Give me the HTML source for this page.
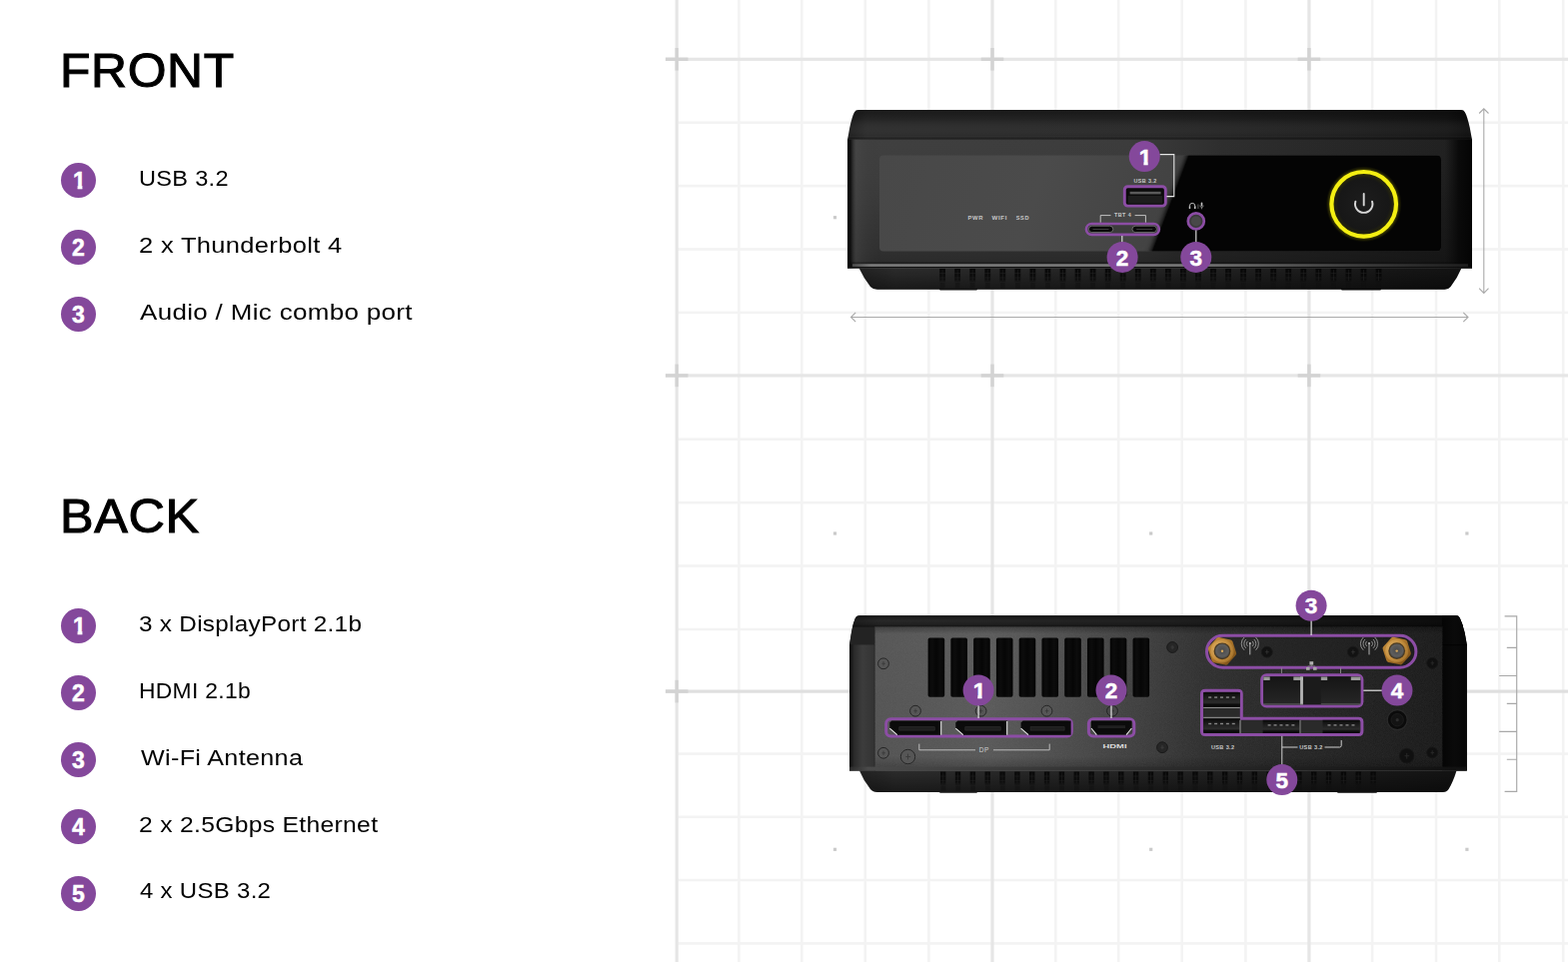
<!DOCTYPE html>
<html lang="en">
<head>
<meta charset="utf-8">
<title>Front / Back I/O</title>
<style>
html,body{margin:0;padding:0;background:#fff;}
body{width:1569px;height:963px;position:relative;overflow:hidden;font-family:"Liberation Sans",sans-serif;color:#000;}
#art{position:absolute;left:0;top:0;width:1569px;height:963px;display:block;}
#art text{font-family:"Liberation Sans",sans-serif;}
.hd{position:absolute;margin:0;font-size:47.4px;line-height:56px;font-weight:400;letter-spacing:.6px;white-space:nowrap;-webkit-text-stroke:1.05px #000;transform-origin:0 50%;}
.num{position:absolute;left:60.9px;width:35px;height:35px;border-radius:50%;background:#84489b;color:#fff;font-weight:700;font-size:23px;line-height:36px;text-align:center;-webkit-text-stroke:.5px #fff;}
.num.one span{display:block;position:relative;left:1px;clip-path:polygon(0 0,35px 0,35px 22.6px,20.5px 22.6px,20.5px 36px,15.7px 36px,15.7px 22.6px,0 22.6px);}
.lbl{position:absolute;font-size:22px;line-height:35px;height:35px;letter-spacing:.3px;white-space:nowrap;transform-origin:0 50%;}
</style>
</head>
<body>
<svg id="art" width="1569" height="963" viewBox="0 0 1569 963">
<defs>
<linearGradient id="fLid" x1="848" x2="1473" y1="0" y2="0" gradientUnits="userSpaceOnUse"><stop offset="0" stop-color="#1c1c1c"/><stop offset=".03" stop-color="#2a2a2a"/><stop offset=".5" stop-color="#262626"/><stop offset=".8" stop-color="#1c1c1c"/><stop offset=".96" stop-color="#151515"/><stop offset="1" stop-color="#0b0b0b"/></linearGradient>
<linearGradient id="fLidV" x1="0" x2="0" y1="110" y2="140" gradientUnits="userSpaceOnUse"><stop offset="0" stop-color="#000" stop-opacity=".4"/><stop offset=".3" stop-color="#000" stop-opacity=".14"/><stop offset=".85" stop-color="#fff" stop-opacity=".02"/><stop offset=".93" stop-color="#000" stop-opacity=".12"/><stop offset="1" stop-color="#000" stop-opacity=".3"/></linearGradient>
<linearGradient id="fBody" x1="848" x2="1473" y1="0" y2="0" gradientUnits="userSpaceOnUse"><stop offset="0" stop-color="#3c3c3c"/><stop offset=".45" stop-color="#383838"/><stop offset=".6" stop-color="#2a2a2a"/><stop offset="1" stop-color="#1b1b1b"/></linearGradient>
<linearGradient id="fBodyV" x1="0" x2="0" y1="140" y2="268" gradientUnits="userSpaceOnUse"><stop offset="0" stop-color="#fff" stop-opacity=".02"/><stop offset=".5" stop-color="#000" stop-opacity=".04"/><stop offset=".86" stop-color="#000" stop-opacity=".2"/><stop offset="1" stop-color="#000" stop-opacity=".3"/></linearGradient>
<linearGradient id="fEdgeL" x1="848" x2="882" y1="0" y2="0" gradientUnits="userSpaceOnUse"><stop offset="0" stop-color="#060606"/><stop offset=".09" stop-color="#0d0d0d" stop-opacity=".95"/><stop offset=".26" stop-color="#4c4c4c" stop-opacity=".4"/><stop offset=".5" stop-color="#444" stop-opacity=".25"/><stop offset=".75" stop-color="#3a3a3a" stop-opacity=".12"/><stop offset="1" stop-color="#333" stop-opacity="0"/></linearGradient>
<linearGradient id="fEdgeR" x1="1446" x2="1473" y1="0" y2="0" gradientUnits="userSpaceOnUse"><stop offset="0" stop-color="#0c0c0c" stop-opacity="0"/><stop offset=".5" stop-color="#080808" stop-opacity=".9"/><stop offset="1" stop-color="#040404"/></linearGradient>
<linearGradient id="fPanel" x1="880" x2="1190" y1="155" y2="252" gradientUnits="userSpaceOnUse"><stop offset="0" stop-color="#484848"/><stop offset=".5" stop-color="#4b4b4b"/><stop offset="1" stop-color="#404040"/></linearGradient>
<linearGradient id="gloss" x1="1161.2" y1="200.2" x2="1171.5" y2="204.1" gradientUnits="userSpaceOnUse"><stop offset="0" stop-color="#4a4a4a" stop-opacity="0"/><stop offset=".5" stop-color="#383838" stop-opacity=".55"/><stop offset=".85" stop-color="#1a1a1a" stop-opacity=".9"/><stop offset="1" stop-color="#040404"/></linearGradient>
<linearGradient id="fHi" x1="853" x2="1469" y1="0" y2="0" gradientUnits="userSpaceOnUse"><stop offset="0" stop-color="#4a4a4a"/><stop offset=".03" stop-color="#7a7a7a"/><stop offset=".55" stop-color="#767676"/><stop offset=".8" stop-color="#404040"/><stop offset="1" stop-color="#1e1e1e"/></linearGradient>
<linearGradient id="fBase" x1="860" x2="1462" y1="0" y2="0" gradientUnits="userSpaceOnUse"><stop offset="0" stop-color="#242424"/><stop offset=".06" stop-color="#2e2e2e"/><stop offset=".6" stop-color="#232323"/><stop offset="1" stop-color="#141414"/></linearGradient>
<linearGradient id="fBaseV" x1="0" x2="0" y1="0" y2="1"><stop offset="0" stop-color="#000" stop-opacity=".05"/><stop offset="1" stop-color="#000" stop-opacity=".45"/></linearGradient>
<linearGradient id="vent" x1="0" x2="0" y1="0" y2="1"><stop offset="0" stop-color="#050505" stop-opacity=".9"/><stop offset=".75" stop-color="#080808" stop-opacity=".8"/><stop offset="1" stop-color="#0c0c0c" stop-opacity=".3"/></linearGradient>
<radialGradient id="pwGlow" cx="1364.7" cy="204.3" r="38" gradientUnits="userSpaceOnUse"><stop offset=".8" stop-color="#7a7600" stop-opacity="0"/><stop offset=".9" stop-color="#7a7600" stop-opacity=".55"/><stop offset="1" stop-color="#3a3800" stop-opacity="0"/></radialGradient>
<radialGradient id="pwIn" cx="1364.7" cy="204.3" r="32" gradientUnits="userSpaceOnUse"><stop offset="0" stop-color="#1d1d1d"/><stop offset=".8" stop-color="#171717"/><stop offset="1" stop-color="#2e2d06"/></radialGradient>
<linearGradient id="bBody" x1="850" x2="1468" y1="0" y2="0" gradientUnits="userSpaceOnUse"><stop offset="0" stop-color="#1d1d1d"/><stop offset="1" stop-color="#0a0a0a"/></linearGradient>
<linearGradient id="bLid" x1="850" x2="1468" y1="0" y2="0" gradientUnits="userSpaceOnUse"><stop offset="0" stop-color="#1e1e1e"/><stop offset=".05" stop-color="#2a2a2a"/><stop offset=".5" stop-color="#222"/><stop offset="1" stop-color="#0c0c0c"/></linearGradient>
<linearGradient id="bLidV" x1="0" x2="0" y1="616" y2="628" gradientUnits="userSpaceOnUse"><stop offset="0" stop-color="#000" stop-opacity=".45"/><stop offset=".45" stop-color="#000" stop-opacity=".05"/><stop offset=".75" stop-color="#000" stop-opacity=".2"/><stop offset="1" stop-color="#000" stop-opacity=".6"/></linearGradient>
<linearGradient id="bSideL" x1="850" x2="876" y1="0" y2="0" gradientUnits="userSpaceOnUse"><stop offset="0" stop-color="#0a0a0a"/><stop offset=".18" stop-color="#2a2a2a"/><stop offset=".5" stop-color="#3c3c3c"/><stop offset=".92" stop-color="#343434"/><stop offset="1" stop-color="#222"/></linearGradient>
<linearGradient id="bSideR" x1="1443" x2="1468" y1="0" y2="0" gradientUnits="userSpaceOnUse"><stop offset="0" stop-color="#050505"/><stop offset=".5" stop-color="#0a0a0a"/><stop offset="1" stop-color="#060606"/></linearGradient>
<linearGradient id="bPanel" x1="875" x2="1443" y1="0" y2="0" gradientUnits="userSpaceOnUse"><stop offset="0" stop-color="#565656"/><stop offset=".2" stop-color="#5c5c5c"/><stop offset=".33" stop-color="#505050"/><stop offset=".48" stop-color="#3f3f3f"/><stop offset=".58" stop-color="#313131"/><stop offset=".75" stop-color="#272727"/><stop offset="1" stop-color="#1b1b1b"/></linearGradient>
<linearGradient id="bPanelV" x1="0" x2="0" y1="627.5" y2="771.6" gradientUnits="userSpaceOnUse"><stop offset="0" stop-color="#000" stop-opacity=".3"/><stop offset=".05" stop-color="#000" stop-opacity="0"/><stop offset=".9" stop-color="#000" stop-opacity=".04"/><stop offset="1" stop-color="#000" stop-opacity=".3"/></linearGradient>
<linearGradient id="bHi" x1="850" x2="1468" y1="0" y2="0" gradientUnits="userSpaceOnUse"><stop offset="0" stop-color="#2a2a2a"/><stop offset=".03" stop-color="#4a4a4a"/><stop offset=".5" stop-color="#2c2c2c"/><stop offset="1" stop-color="#101010"/></linearGradient>
<linearGradient id="slot" x1="0" x2="1" y1="0" y2="0"><stop offset="0" stop-color="#050505"/><stop offset=".25" stop-color="#0c0c0c"/><stop offset=".5" stop-color="#060606"/><stop offset=".75" stop-color="#0c0c0c"/><stop offset="1" stop-color="#030303"/></linearGradient>
<linearGradient id="gold" x1="0" x2="1" y1="0" y2="1"><stop offset="0" stop-color="#c08a3a"/><stop offset=".5" stop-color="#a87228"/><stop offset="1" stop-color="#7c5018"/></linearGradient>
<radialGradient id="gold2" cx=".35" cy=".4" r=".75"><stop offset="0" stop-color="#e2b468"/><stop offset=".6" stop-color="#c48e3e"/><stop offset="1" stop-color="#9a6a26"/></radialGradient>
<radialGradient id="smaIn" cx=".5" cy=".45" r=".6"><stop offset="0" stop-color="#4a4a4a"/><stop offset=".7" stop-color="#5e5e5e"/><stop offset="1" stop-color="#3a3a3a"/></radialGradient>
<linearGradient id="rjIn" x1="0" x2="0" y1="0" y2="1"><stop offset="0" stop-color="#151515"/><stop offset="1" stop-color="#262626"/></linearGradient>
<linearGradient id="usbIn" x1="0" x2="0" y1="0" y2="1"><stop offset="0" stop-color="#0a0a0a"/><stop offset=".3" stop-color="#1a1a1a"/><stop offset=".7" stop-color="#2c2c2c"/><stop offset=".85" stop-color="#0c0c0c"/><stop offset="1" stop-color="#080808"/></linearGradient>
<filter id="gblur" x="0" y="0" width="1569" height="963" filterUnits="userSpaceOnUse"><feGaussianBlur stdDeviation=".55"/></filter>
<filter id="noise" x="0" y="0" width="100%" height="100%"><feTurbulence type="fractalNoise" baseFrequency="1.1" numOctaves="2" seed="4"/><feColorMatrix type="matrix" values="0 0 0 0 .5  0 0 0 0 .5  0 0 0 0 .5  1.6 0 0 0 -.3"/></filter>
</defs>
<g id="grid" filter="url(#gblur)">
<rect x="738.1" y="0" width="2.6" height="963" fill="#f3f3f3"/>
<rect x="801" y="0" width="2.6" height="963" fill="#f3f3f3"/>
<rect x="864.5" y="0" width="2.6" height="963" fill="#f3f3f3"/>
<rect x="928.1" y="0" width="2.6" height="963" fill="#f3f3f3"/>
<rect x="1055" y="0" width="2.6" height="963" fill="#f3f3f3"/>
<rect x="1117.9" y="0" width="2.6" height="963" fill="#f3f3f3"/>
<rect x="1181.4" y="0" width="2.6" height="963" fill="#f3f3f3"/>
<rect x="1245.1" y="0" width="2.6" height="963" fill="#f3f3f3"/>
<rect x="1371.8" y="0" width="2.6" height="963" fill="#f3f3f3"/>
<rect x="1435.7" y="0" width="2.6" height="963" fill="#f3f3f3"/>
<rect x="1499" y="0" width="2.6" height="963" fill="#f3f3f3"/>
<rect x="1562.9" y="0" width="2.6" height="963" fill="#f3f3f3"/>
<rect x="677.2" y="121.4" width="891.8" height="2.6" fill="#f3f3f3"/>
<rect x="677.2" y="184.8" width="891.8" height="2.6" fill="#f3f3f3"/>
<rect x="677.2" y="248.2" width="891.8" height="2.6" fill="#f3f3f3"/>
<rect x="677.2" y="311.6" width="891.8" height="2.6" fill="#f3f3f3"/>
<rect x="677.2" y="438.4" width="891.8" height="2.6" fill="#f3f3f3"/>
<rect x="677.2" y="501.8" width="891.8" height="2.6" fill="#f3f3f3"/>
<rect x="677.2" y="565.2" width="891.8" height="2.6" fill="#f3f3f3"/>
<rect x="677.2" y="628.7" width="891.8" height="2.6" fill="#f3f3f3"/>
<rect x="677.2" y="753.3" width="891.8" height="2.6" fill="#f3f3f3"/>
<rect x="677.2" y="816.5" width="891.8" height="2.6" fill="#f3f3f3"/>
<rect x="677.2" y="879.7" width="891.8" height="2.6" fill="#f3f3f3"/>
<rect x="677.2" y="943.1" width="891.8" height="2.6" fill="#f3f3f3"/>
<rect x="675.6" y="0" width="3.2" height="963" fill="#e6e6e6"/>
<rect x="991.4" y="0" width="3.2" height="963" fill="#e6e6e6"/>
<rect x="1308.3" y="0" width="3.2" height="963" fill="#e6e6e6"/>
<rect x="666" y="57.7" width="903" height="3.2" fill="#e6e6e6"/>
<rect x="666" y="374.3" width="903" height="3.2" fill="#e6e6e6"/>
<rect x="666" y="690.5" width="903" height="3.2" fill="#dfdfdf"/>
<rect x="665.9" y="57.6" width="22.6" height="3.4" fill="#d3d3d3"/>
<rect x="675.5" y="48" width="3.4" height="22.6" fill="#d3d3d3"/>
<rect x="665.9" y="374.2" width="22.6" height="3.4" fill="#d3d3d3"/>
<rect x="675.5" y="364.6" width="3.4" height="22.6" fill="#d3d3d3"/>
<rect x="665.9" y="690.4" width="22.6" height="3.4" fill="#d3d3d3"/>
<rect x="675.5" y="680.8" width="3.4" height="22.6" fill="#d3d3d3"/>
<rect x="981.7" y="57.6" width="22.6" height="3.4" fill="#d3d3d3"/>
<rect x="991.3" y="48" width="3.4" height="22.6" fill="#d3d3d3"/>
<rect x="981.7" y="374.2" width="22.6" height="3.4" fill="#d3d3d3"/>
<rect x="991.3" y="364.6" width="3.4" height="22.6" fill="#d3d3d3"/>
<rect x="981.7" y="690.4" width="22.6" height="3.4" fill="#d3d3d3"/>
<rect x="991.3" y="680.8" width="3.4" height="22.6" fill="#d3d3d3"/>
<rect x="1298.6" y="57.6" width="22.6" height="3.4" fill="#d3d3d3"/>
<rect x="1308.2" y="48" width="3.4" height="22.6" fill="#d3d3d3"/>
<rect x="1298.6" y="374.2" width="22.6" height="3.4" fill="#d3d3d3"/>
<rect x="1308.2" y="364.6" width="3.4" height="22.6" fill="#d3d3d3"/>
<rect x="1298.6" y="690.4" width="22.6" height="3.4" fill="#d3d3d3"/>
<rect x="1308.2" y="680.8" width="3.4" height="22.6" fill="#d3d3d3"/>
<rect x="833.9" y="216.1" width="3.2" height="3.2" fill="#cacaca"/>
<rect x="833.9" y="532.4" width="3.2" height="3.2" fill="#cacaca"/>
<rect x="833.9" y="848.7" width="3.2" height="3.2" fill="#cacaca"/>
<rect x="1150.1" y="216.1" width="3.2" height="3.2" fill="#cacaca"/>
<rect x="1150.1" y="532.4" width="3.2" height="3.2" fill="#cacaca"/>
<rect x="1150.1" y="848.7" width="3.2" height="3.2" fill="#cacaca"/>
<rect x="1466.3" y="216.1" width="3.2" height="3.2" fill="#cacaca"/>
<rect x="1466.3" y="532.4" width="3.2" height="3.2" fill="#cacaca"/>
<rect x="1466.3" y="848.7" width="3.2" height="3.2" fill="#cacaca"/>
</g>
<g id="front">
<path d="M848 140 L850.2 128 Q852.6 116.5 855 112.2 Q856.3 110 859 110 H1462 Q1464.6 110 1465.8 112.2 Q1468.3 116.5 1470.8 128 L1473 140Z" fill="url(#fLid)"/>
<path d="M848 140 L850.2 128 Q852.6 116.5 855 112.2 Q856.3 110 859 110 H1462 Q1464.6 110 1465.8 112.2 Q1468.3 116.5 1470.8 128 L1473 140Z" fill="url(#fLidV)"/>
<rect x="848" y="139.6" width="625" height="128.8" fill="url(#fBody)"/>
<rect x="848" y="139.6" width="625" height="128.8" fill="url(#fBodyV)"/>
<rect x="848" y="139.6" width="34" height="128.8" fill="url(#fEdgeL)"/>
<rect x="1446" y="139.6" width="27" height="128.8" fill="url(#fEdgeR)"/>
<clipPath id="fPanelClip"><rect x="880" y="155.5" width="562" height="96" rx="4"/></clipPath>
<rect x="880" y="155.5" width="562" height="96" rx="4" fill="url(#fPanel)"/>
<g clip-path="url(#fPanelClip)"><path d="M1177 155 H1443 V252 H1141 Z" fill="url(#gloss)"/></g>
<rect x="848" y="262.5" width="625" height="6" fill="#0a0a0a" opacity=".35"/>
<rect x="853" y="264.2" width="616" height="2.7" fill="url(#fHi)"/>
<rect x="848" y="267" width="625" height="1.5" fill="#0f0f0f" opacity=".8"/>
<path d="M859.5 268.3 H1462.5 Q1458 279 1451.5 287 Q1449.3 289.8 1445.5 289.8 H878 Q873.6 289.8 871 287 Q864.5 279 859.5 268.3Z" fill="url(#fBase)"/>
<path d="M859.5 268.3 H1462.5 Q1458 279 1451.5 287 Q1449.3 289.8 1445.5 289.8 H878 Q873.6 289.8 871 287 Q864.5 279 859.5 268.3Z" fill="url(#fBaseV)"/>
<rect x="940.2" y="269" width="5.8" height="13.5" fill="url(#vent)"/><path d="M940.2 273.6 h5.8 M940.2 278 h5.8 M943.1 270 v11" stroke="#2c2c2c" stroke-width=".7" opacity=".6" fill="none"/><rect x="940.8" y="283" width="4.6" height="5.5" fill="#101010" opacity=".45"/><rect x="955.25" y="269" width="5.8" height="13.5" fill="url(#vent)"/><path d="M955.25 273.6 h5.8 M955.25 278 h5.8 M958.15 270 v11" stroke="#2c2c2c" stroke-width=".7" opacity=".6" fill="none"/><rect x="955.85" y="283" width="4.6" height="5.5" fill="#101010" opacity=".45"/><rect x="970.3" y="269" width="5.8" height="13.5" fill="url(#vent)"/><path d="M970.3 273.6 h5.8 M970.3 278 h5.8 M973.2 270 v11" stroke="#2c2c2c" stroke-width=".7" opacity=".6" fill="none"/><rect x="970.9" y="283" width="4.6" height="5.5" fill="#101010" opacity=".45"/><rect x="985.35" y="269" width="5.8" height="13.5" fill="url(#vent)"/><path d="M985.35 273.6 h5.8 M985.35 278 h5.8 M988.25 270 v11" stroke="#2c2c2c" stroke-width=".7" opacity=".6" fill="none"/><rect x="985.95" y="283" width="4.6" height="5.5" fill="#101010" opacity=".45"/><rect x="1000.4" y="269" width="5.8" height="13.5" fill="url(#vent)"/><path d="M1000.4 273.6 h5.8 M1000.4 278 h5.8 M1003.3 270 v11" stroke="#2c2c2c" stroke-width=".7" opacity=".6" fill="none"/><rect x="1001" y="283" width="4.6" height="5.5" fill="#101010" opacity=".45"/><rect x="1015.45" y="269" width="5.8" height="13.5" fill="url(#vent)"/><path d="M1015.45 273.6 h5.8 M1015.45 278 h5.8 M1018.35 270 v11" stroke="#2c2c2c" stroke-width=".7" opacity=".6" fill="none"/><rect x="1016.05" y="283" width="4.6" height="5.5" fill="#101010" opacity=".45"/><rect x="1030.5" y="269" width="5.8" height="13.5" fill="url(#vent)"/><path d="M1030.5 273.6 h5.8 M1030.5 278 h5.8 M1033.4 270 v11" stroke="#2c2c2c" stroke-width=".7" opacity=".6" fill="none"/><rect x="1031.1" y="283" width="4.6" height="5.5" fill="#101010" opacity=".45"/><rect x="1045.55" y="269" width="5.8" height="13.5" fill="url(#vent)"/><path d="M1045.55 273.6 h5.8 M1045.55 278 h5.8 M1048.45 270 v11" stroke="#2c2c2c" stroke-width=".7" opacity=".6" fill="none"/><rect x="1046.15" y="283" width="4.6" height="5.5" fill="#101010" opacity=".45"/><rect x="1060.6" y="269" width="5.8" height="13.5" fill="url(#vent)"/><path d="M1060.6 273.6 h5.8 M1060.6 278 h5.8 M1063.5 270 v11" stroke="#2c2c2c" stroke-width=".7" opacity=".6" fill="none"/><rect x="1061.2" y="283" width="4.6" height="5.5" fill="#101010" opacity=".45"/><rect x="1075.65" y="269" width="5.8" height="13.5" fill="url(#vent)"/><path d="M1075.65 273.6 h5.8 M1075.65 278 h5.8 M1078.55 270 v11" stroke="#2c2c2c" stroke-width=".7" opacity=".6" fill="none"/><rect x="1076.25" y="283" width="4.6" height="5.5" fill="#101010" opacity=".45"/><rect x="1090.7" y="269" width="5.8" height="13.5" fill="url(#vent)"/><path d="M1090.7 273.6 h5.8 M1090.7 278 h5.8 M1093.6 270 v11" stroke="#2c2c2c" stroke-width=".7" opacity=".6" fill="none"/><rect x="1091.3" y="283" width="4.6" height="5.5" fill="#101010" opacity=".45"/><rect x="1105.75" y="269" width="5.8" height="13.5" fill="url(#vent)"/><path d="M1105.75 273.6 h5.8 M1105.75 278 h5.8 M1108.65 270 v11" stroke="#2c2c2c" stroke-width=".7" opacity=".6" fill="none"/><rect x="1106.35" y="283" width="4.6" height="5.5" fill="#101010" opacity=".45"/><rect x="1120.8" y="269" width="5.8" height="13.5" fill="url(#vent)"/><path d="M1120.8 273.6 h5.8 M1120.8 278 h5.8 M1123.7 270 v11" stroke="#2c2c2c" stroke-width=".7" opacity=".6" fill="none"/><rect x="1121.4" y="283" width="4.6" height="5.5" fill="#101010" opacity=".45"/><rect x="1135.85" y="269" width="5.8" height="13.5" fill="url(#vent)"/><path d="M1135.85 273.6 h5.8 M1135.85 278 h5.8 M1138.75 270 v11" stroke="#2c2c2c" stroke-width=".7" opacity=".6" fill="none"/><rect x="1136.45" y="283" width="4.6" height="5.5" fill="#101010" opacity=".45"/><rect x="1150.9" y="269" width="5.8" height="13.5" fill="url(#vent)"/><path d="M1150.9 273.6 h5.8 M1150.9 278 h5.8 M1153.8 270 v11" stroke="#2c2c2c" stroke-width=".7" opacity=".6" fill="none"/><rect x="1151.5" y="283" width="4.6" height="5.5" fill="#101010" opacity=".45"/><rect x="1165.95" y="269" width="5.8" height="13.5" fill="url(#vent)"/><path d="M1165.95 273.6 h5.8 M1165.95 278 h5.8 M1168.85 270 v11" stroke="#2c2c2c" stroke-width=".7" opacity=".6" fill="none"/><rect x="1166.55" y="283" width="4.6" height="5.5" fill="#101010" opacity=".45"/><rect x="1181" y="269" width="5.8" height="13.5" fill="url(#vent)"/><path d="M1181 273.6 h5.8 M1181 278 h5.8 M1183.9 270 v11" stroke="#2c2c2c" stroke-width=".7" opacity=".6" fill="none"/><rect x="1181.6" y="283" width="4.6" height="5.5" fill="#101010" opacity=".45"/><rect x="1196.05" y="269" width="5.8" height="13.5" fill="url(#vent)"/><path d="M1196.05 273.6 h5.8 M1196.05 278 h5.8 M1198.95 270 v11" stroke="#2c2c2c" stroke-width=".7" opacity=".6" fill="none"/><rect x="1196.65" y="283" width="4.6" height="5.5" fill="#101010" opacity=".45"/><rect x="1211.1" y="269" width="5.8" height="13.5" fill="url(#vent)"/><path d="M1211.1 273.6 h5.8 M1211.1 278 h5.8 M1214 270 v11" stroke="#2c2c2c" stroke-width=".7" opacity=".6" fill="none"/><rect x="1211.7" y="283" width="4.6" height="5.5" fill="#101010" opacity=".45"/><rect x="1226.15" y="269" width="5.8" height="13.5" fill="url(#vent)"/><path d="M1226.15 273.6 h5.8 M1226.15 278 h5.8 M1229.05 270 v11" stroke="#2c2c2c" stroke-width=".7" opacity=".6" fill="none"/><rect x="1226.75" y="283" width="4.6" height="5.5" fill="#101010" opacity=".45"/><rect x="1241.2" y="269" width="5.8" height="13.5" fill="url(#vent)"/><path d="M1241.2 273.6 h5.8 M1241.2 278 h5.8 M1244.1 270 v11" stroke="#2c2c2c" stroke-width=".7" opacity=".6" fill="none"/><rect x="1241.8" y="283" width="4.6" height="5.5" fill="#101010" opacity=".45"/><rect x="1256.25" y="269" width="5.8" height="13.5" fill="url(#vent)"/><path d="M1256.25 273.6 h5.8 M1256.25 278 h5.8 M1259.15 270 v11" stroke="#2c2c2c" stroke-width=".7" opacity=".6" fill="none"/><rect x="1256.85" y="283" width="4.6" height="5.5" fill="#101010" opacity=".45"/><rect x="1271.3" y="269" width="5.8" height="13.5" fill="url(#vent)"/><path d="M1271.3 273.6 h5.8 M1271.3 278 h5.8 M1274.2 270 v11" stroke="#2c2c2c" stroke-width=".7" opacity=".6" fill="none"/><rect x="1271.9" y="283" width="4.6" height="5.5" fill="#101010" opacity=".45"/><rect x="1286.35" y="269" width="5.8" height="13.5" fill="url(#vent)"/><path d="M1286.35 273.6 h5.8 M1286.35 278 h5.8 M1289.25 270 v11" stroke="#2c2c2c" stroke-width=".7" opacity=".6" fill="none"/><rect x="1286.95" y="283" width="4.6" height="5.5" fill="#101010" opacity=".45"/><rect x="1301.4" y="269" width="5.8" height="13.5" fill="url(#vent)"/><path d="M1301.4 273.6 h5.8 M1301.4 278 h5.8 M1304.3 270 v11" stroke="#2c2c2c" stroke-width=".7" opacity=".6" fill="none"/><rect x="1302" y="283" width="4.6" height="5.5" fill="#101010" opacity=".45"/><rect x="1316.45" y="269" width="5.8" height="13.5" fill="url(#vent)"/><path d="M1316.45 273.6 h5.8 M1316.45 278 h5.8 M1319.35 270 v11" stroke="#2c2c2c" stroke-width=".7" opacity=".6" fill="none"/><rect x="1317.05" y="283" width="4.6" height="5.5" fill="#101010" opacity=".45"/><rect x="1331.5" y="269" width="5.8" height="13.5" fill="url(#vent)"/><path d="M1331.5 273.6 h5.8 M1331.5 278 h5.8 M1334.4 270 v11" stroke="#2c2c2c" stroke-width=".7" opacity=".6" fill="none"/><rect x="1332.1" y="283" width="4.6" height="5.5" fill="#101010" opacity=".45"/><rect x="1346.55" y="269" width="5.8" height="13.5" fill="url(#vent)"/><path d="M1346.55 273.6 h5.8 M1346.55 278 h5.8 M1349.45 270 v11" stroke="#2c2c2c" stroke-width=".7" opacity=".6" fill="none"/><rect x="1347.15" y="283" width="4.6" height="5.5" fill="#101010" opacity=".45"/><rect x="1361.6" y="269" width="5.8" height="13.5" fill="url(#vent)"/><path d="M1361.6 273.6 h5.8 M1361.6 278 h5.8 M1364.5 270 v11" stroke="#2c2c2c" stroke-width=".7" opacity=".6" fill="none"/><rect x="1362.2" y="283" width="4.6" height="5.5" fill="#101010" opacity=".45"/><rect x="1376.65" y="269" width="5.8" height="13.5" fill="url(#vent)"/><path d="M1376.65 273.6 h5.8 M1376.65 278 h5.8 M1379.55 270 v11" stroke="#2c2c2c" stroke-width=".7" opacity=".6" fill="none"/><rect x="1377.25" y="283" width="4.6" height="5.5" fill="#101010" opacity=".45"/>
<rect x="940" y="288.6" width="38" height="2" rx="1" fill="#171717"/>
<rect x="1342" y="288.6" width="40" height="2" rx="1" fill="#0e0e0e"/>
<text x="968.6" y="220.2" font-size="5.4" font-weight="700" fill="#c8c8c8" text-anchor="start" letter-spacing="0.55" textLength="15.5" lengthAdjust="spacingAndGlyphs">PWR</text>
<text x="992.6" y="220.2" font-size="5.4" font-weight="700" fill="#c8c8c8" text-anchor="start" letter-spacing="0.55" textLength="15.5" lengthAdjust="spacingAndGlyphs">WIFI</text>
<text x="1016.8" y="220.2" font-size="5.4" font-weight="700" fill="#c8c8c8" text-anchor="start" letter-spacing="0.55" textLength="13.2" lengthAdjust="spacingAndGlyphs">SSD</text>
<text x="1146" y="183" font-size="5.4" font-weight="700" fill="#c8c8c8" text-anchor="middle" letter-spacing="0.4">USB 3.2</text>
<rect x="1125.3" y="186.7" width="41" height="19.4" rx="3.2" fill="#0b0b0b" stroke="#8c4da5" stroke-width="2.9"/>
<rect x="1130.6" y="191.8" width="31" height="2.6" fill="#5a5a5a"/>
<rect x="1128.6" y="196" width="34.6" height="7.6" fill="#1d1d1d"/>
<path d="M1160.5 154.6 H1174.8 V196.6 H1167.4" fill="none" stroke="#e6e6e6" stroke-width="1.1"/>
<text x="1123.6" y="217.4" font-size="5.4" font-weight="700" fill="#c8c8c8" text-anchor="middle" letter-spacing="0.4">TBT 4</text>
<path d="M1101.2 222.8 V215.6 H1111.5 M1135.6 215.6 H1146.4 V222.8" fill="none" stroke="#cfcfcf" stroke-width=".9"/>
<rect x="1087" y="224" width="72.8" height="10.8" rx="5.4" fill="#3c3c3c" stroke="#8c4da5" stroke-width="2.7"/>
<rect x="1089.4" y="226.2" width="24.4" height="6.4" rx="3.2" fill="#0a0a0a" stroke="#9a9a9a" stroke-width=".6"/>
<rect x="1133" y="226.2" width="24.4" height="6.4" rx="3.2" fill="#0a0a0a" stroke="#9a9a9a" stroke-width=".6"/>
<rect x="1093.5" y="229" width="16" height=".9" fill="#3f3f3f"/><rect x="1137.2" y="229" width="16" height=".9" fill="#3f3f3f"/>
<path d="M1122.8 236 V243" stroke="#d8d8d8" stroke-width="1.2"/>
<path d="M1190.4 208.8 V206.3 Q1190.4 203.3 1193.1 203.3 Q1195.8 203.3 1195.8 206.3 V208.8" fill="none" stroke="#c4c4c4" stroke-width=".9"/><rect x="1189.8" y="206.4" width="1.4" height="2.6" fill="#c4c4c4"/><rect x="1195" y="206.4" width="1.4" height="2.6" fill="#c4c4c4"/>
<path d="M1198.9 204.5 V209" stroke="#8d8d8d" stroke-width=".7" fill="none"/><rect x="1201.7" y="202.6" width="1.6" height="4" rx=".8" fill="#c4c4c4"/><path d="M1200.9 205.6 Q1200.9 207.6 1202.5 207.6 Q1204.1 207.6 1204.1 205.6 M1202.5 207.6 V209.3" fill="none" stroke="#c4c4c4" stroke-width=".6"/>
<circle cx="1196.8" cy="221.4" r="8" fill="#3a3a3a" stroke="#8c4da5" stroke-width="2.7"/>
<circle cx="1196.8" cy="221.4" r="5" fill="#484848"/>
<path d="M1196.8 230.6 V243" stroke="#d8d8d8" stroke-width="1.2"/>
<circle cx="1364.7" cy="204.3" r="38" fill="url(#pwGlow)"/>
<circle cx="1364.7" cy="204.3" r="32.3" fill="url(#pwIn)" stroke="#f4ef12" stroke-width="4.2"/>
<path d="M1364.7 194 V205.4" stroke="#d6d6d6" stroke-width="1.9" stroke-linecap="round" fill="none"/>
<path d="M1356.4 201.6 A8.7 8.7 0 1 0 1373 201.6" stroke="#d6d6d6" stroke-width="1.9" stroke-linecap="round" fill="none"/>
<circle cx="1145.2" cy="156.6" r="15.5" fill="#84489b"/><clipPath id="one1"><path d="M1133.2 143.6 H1157.2 V161.7 H1148.65 V169.6 H1144.45 V161.7 H1133.2Z"/></clipPath><text x="1146" y="164.7" font-size="22.5" font-weight="700" fill="#fff" stroke="#fff" stroke-width=".5" text-anchor="middle" clip-path="url(#one1)">1</text>
<circle cx="1123.1" cy="257.4" r="15.5" fill="#84489b"/><text x="1123.1" y="265.5" font-size="22.5" font-weight="700" fill="#fff" stroke="#fff" stroke-width=".5" text-anchor="middle">2</text>
<circle cx="1196.8" cy="257.4" r="15.5" fill="#84489b"/><text x="1196.8" y="265.5" font-size="22.5" font-weight="700" fill="#fff" stroke="#fff" stroke-width=".5" text-anchor="middle">3</text>
<path d="M851.5 317.5 H1469 M856.2 312.8 L851.5 317.5 L856.2 322.2 M1464.3 312.8 L1469 317.5 L1464.3 322.2" fill="none" stroke="#a9a9a9" stroke-width="1.1"/>
<path d="M1484.8 108.8 V293.4 M1480.1 113.5 L1484.8 108.8 L1489.5 113.5 M1480.1 288.7 L1484.8 293.4 L1489.5 288.7" fill="none" stroke="#a9a9a9" stroke-width="1.1"/>
</g>
<g id="back">
<path d="M850 645.2 L852 633 Q854 622 856.3 618 Q857.3 616.2 860 616.2 H1457 Q1459.6 616.2 1460.7 618.4 Q1463.4 624 1465.6 633 L1467.8 645.2 V771.6 H850Z" fill="url(#bBody)"/>
<clipPath id="bClip"><path d="M850 645.2 L852 633 Q854 622 856.3 618 Q857.3 616.2 860 616.2 H1457 Q1459.6 616.2 1460.7 618.4 Q1463.4 624 1465.6 633 L1467.8 645.2 V771.6 H850Z"/></clipPath>
<g clip-path="url(#bClip)">
<rect x="850" y="616" width="618" height="12" fill="url(#bLid)"/>
<rect x="850" y="616" width="618" height="12" fill="url(#bLidV)"/>
<rect x="850" y="627.5" width="26" height="18" fill="#232323"/>
<rect x="850" y="645.4" width="26" height="126.5" fill="url(#bSideL)"/>
<rect x="1443" y="616" width="25" height="156" fill="url(#bSideR)"/>
<rect x="1443" y="645" width="25" height="1.2" fill="#000" opacity=".6"/>
<rect x="875.6" y="627.5" width="567.6" height="144.1" fill="url(#bPanel)"/>
<rect x="875.6" y="627.5" width="567.6" height="144.1" fill="url(#bPanelV)"/>
<rect x="875.6" y="627.5" width="567.6" height="144.1" filter="url(#noise)" opacity=".055"/>
<rect x="850" y="767.6" width="618" height="4" fill="url(#bHi)"/>
</g>
<path d="M860 771.4 H1457.5 Q1454 782.5 1449.5 790 Q1447.6 793 1443.5 793 H878 Q873.6 793 871 790 Q864.5 782 860 771.4Z" fill="url(#fBase)"/>
<path d="M860 771.4 H1457.5 Q1454 782.5 1449.5 790 Q1447.6 793 1443.5 793 H878 Q873.6 793 871 790 Q864.5 782 860 771.4Z" fill="url(#fBaseV)"/>
<rect x="941" y="772.5" width="5.4" height="13.5" fill="url(#vent)"/><path d="M941 777 h5.4 M941 781.4 h5.4 M943.7 773.4 v11" stroke="#2a2a2a" stroke-width=".7" opacity=".55" fill="none"/><rect x="941.6" y="786.5" width="4.6" height="5.5" fill="#101010" opacity=".45"/><rect x="955.84" y="772.5" width="5.4" height="13.5" fill="url(#vent)"/><path d="M955.84 777 h5.4 M955.84 781.4 h5.4 M958.54 773.4 v11" stroke="#2a2a2a" stroke-width=".7" opacity=".55" fill="none"/><rect x="956.44" y="786.5" width="4.6" height="5.5" fill="#101010" opacity=".45"/><rect x="970.68" y="772.5" width="5.4" height="13.5" fill="url(#vent)"/><path d="M970.68 777 h5.4 M970.68 781.4 h5.4 M973.38 773.4 v11" stroke="#2a2a2a" stroke-width=".7" opacity=".55" fill="none"/><rect x="971.28" y="786.5" width="4.6" height="5.5" fill="#101010" opacity=".45"/><rect x="985.52" y="772.5" width="5.4" height="13.5" fill="url(#vent)"/><path d="M985.52 777 h5.4 M985.52 781.4 h5.4 M988.22 773.4 v11" stroke="#2a2a2a" stroke-width=".7" opacity=".55" fill="none"/><rect x="986.12" y="786.5" width="4.6" height="5.5" fill="#101010" opacity=".45"/><rect x="1000.36" y="772.5" width="5.4" height="13.5" fill="url(#vent)"/><path d="M1000.36 777 h5.4 M1000.36 781.4 h5.4 M1003.06 773.4 v11" stroke="#2a2a2a" stroke-width=".7" opacity=".55" fill="none"/><rect x="1000.96" y="786.5" width="4.6" height="5.5" fill="#101010" opacity=".45"/><rect x="1015.2" y="772.5" width="5.4" height="13.5" fill="url(#vent)"/><path d="M1015.2 777 h5.4 M1015.2 781.4 h5.4 M1017.9 773.4 v11" stroke="#2a2a2a" stroke-width=".7" opacity=".55" fill="none"/><rect x="1015.8" y="786.5" width="4.6" height="5.5" fill="#101010" opacity=".45"/><rect x="1030.04" y="772.5" width="5.4" height="13.5" fill="url(#vent)"/><path d="M1030.04 777 h5.4 M1030.04 781.4 h5.4 M1032.74 773.4 v11" stroke="#2a2a2a" stroke-width=".7" opacity=".55" fill="none"/><rect x="1030.64" y="786.5" width="4.6" height="5.5" fill="#101010" opacity=".45"/><rect x="1044.88" y="772.5" width="5.4" height="13.5" fill="url(#vent)"/><path d="M1044.88 777 h5.4 M1044.88 781.4 h5.4 M1047.58 773.4 v11" stroke="#2a2a2a" stroke-width=".7" opacity=".55" fill="none"/><rect x="1045.48" y="786.5" width="4.6" height="5.5" fill="#101010" opacity=".45"/><rect x="1059.72" y="772.5" width="5.4" height="13.5" fill="url(#vent)"/><path d="M1059.72 777 h5.4 M1059.72 781.4 h5.4 M1062.42 773.4 v11" stroke="#2a2a2a" stroke-width=".7" opacity=".55" fill="none"/><rect x="1060.32" y="786.5" width="4.6" height="5.5" fill="#101010" opacity=".45"/><rect x="1074.56" y="772.5" width="5.4" height="13.5" fill="url(#vent)"/><path d="M1074.56 777 h5.4 M1074.56 781.4 h5.4 M1077.26 773.4 v11" stroke="#2a2a2a" stroke-width=".7" opacity=".55" fill="none"/><rect x="1075.16" y="786.5" width="4.6" height="5.5" fill="#101010" opacity=".45"/><rect x="1089.4" y="772.5" width="5.4" height="13.5" fill="url(#vent)"/><path d="M1089.4 777 h5.4 M1089.4 781.4 h5.4 M1092.1 773.4 v11" stroke="#2a2a2a" stroke-width=".7" opacity=".55" fill="none"/><rect x="1090" y="786.5" width="4.6" height="5.5" fill="#101010" opacity=".45"/><rect x="1104.24" y="772.5" width="5.4" height="13.5" fill="url(#vent)"/><path d="M1104.24 777 h5.4 M1104.24 781.4 h5.4 M1106.94 773.4 v11" stroke="#2a2a2a" stroke-width=".7" opacity=".55" fill="none"/><rect x="1104.84" y="786.5" width="4.6" height="5.5" fill="#101010" opacity=".45"/><rect x="1119.08" y="772.5" width="5.4" height="13.5" fill="url(#vent)"/><path d="M1119.08 777 h5.4 M1119.08 781.4 h5.4 M1121.78 773.4 v11" stroke="#2a2a2a" stroke-width=".7" opacity=".55" fill="none"/><rect x="1119.68" y="786.5" width="4.6" height="5.5" fill="#101010" opacity=".45"/><rect x="1133.92" y="772.5" width="5.4" height="13.5" fill="url(#vent)"/><path d="M1133.92 777 h5.4 M1133.92 781.4 h5.4 M1136.62 773.4 v11" stroke="#2a2a2a" stroke-width=".7" opacity=".55" fill="none"/><rect x="1134.52" y="786.5" width="4.6" height="5.5" fill="#101010" opacity=".45"/><rect x="1148.76" y="772.5" width="5.4" height="13.5" fill="url(#vent)"/><path d="M1148.76 777 h5.4 M1148.76 781.4 h5.4 M1151.46 773.4 v11" stroke="#2a2a2a" stroke-width=".7" opacity=".55" fill="none"/><rect x="1149.36" y="786.5" width="4.6" height="5.5" fill="#101010" opacity=".45"/><rect x="1163.6" y="772.5" width="5.4" height="13.5" fill="url(#vent)"/><path d="M1163.6 777 h5.4 M1163.6 781.4 h5.4 M1166.3 773.4 v11" stroke="#2a2a2a" stroke-width=".7" opacity=".55" fill="none"/><rect x="1164.2" y="786.5" width="4.6" height="5.5" fill="#101010" opacity=".45"/><rect x="1178.44" y="772.5" width="5.4" height="13.5" fill="url(#vent)"/><path d="M1178.44 777 h5.4 M1178.44 781.4 h5.4 M1181.14 773.4 v11" stroke="#2a2a2a" stroke-width=".7" opacity=".55" fill="none"/><rect x="1179.04" y="786.5" width="4.6" height="5.5" fill="#101010" opacity=".45"/><rect x="1193.28" y="772.5" width="5.4" height="13.5" fill="url(#vent)"/><path d="M1193.28 777 h5.4 M1193.28 781.4 h5.4 M1195.98 773.4 v11" stroke="#2a2a2a" stroke-width=".7" opacity=".55" fill="none"/><rect x="1193.88" y="786.5" width="4.6" height="5.5" fill="#101010" opacity=".45"/><rect x="1208.12" y="772.5" width="5.4" height="13.5" fill="url(#vent)"/><path d="M1208.12 777 h5.4 M1208.12 781.4 h5.4 M1210.82 773.4 v11" stroke="#2a2a2a" stroke-width=".7" opacity=".55" fill="none"/><rect x="1208.72" y="786.5" width="4.6" height="5.5" fill="#101010" opacity=".45"/><rect x="1222.96" y="772.5" width="5.4" height="13.5" fill="url(#vent)"/><path d="M1222.96 777 h5.4 M1222.96 781.4 h5.4 M1225.66 773.4 v11" stroke="#2a2a2a" stroke-width=".7" opacity=".55" fill="none"/><rect x="1223.56" y="786.5" width="4.6" height="5.5" fill="#101010" opacity=".45"/><rect x="1237.8" y="772.5" width="5.4" height="13.5" fill="url(#vent)"/><path d="M1237.8 777 h5.4 M1237.8 781.4 h5.4 M1240.5 773.4 v11" stroke="#2a2a2a" stroke-width=".7" opacity=".55" fill="none"/><rect x="1238.4" y="786.5" width="4.6" height="5.5" fill="#101010" opacity=".45"/><rect x="1252.64" y="772.5" width="5.4" height="13.5" fill="url(#vent)"/><path d="M1252.64 777 h5.4 M1252.64 781.4 h5.4 M1255.34 773.4 v11" stroke="#2a2a2a" stroke-width=".7" opacity=".55" fill="none"/><rect x="1253.24" y="786.5" width="4.6" height="5.5" fill="#101010" opacity=".45"/><rect x="1267.48" y="772.5" width="5.4" height="13.5" fill="url(#vent)"/><path d="M1267.48 777 h5.4 M1267.48 781.4 h5.4 M1270.18 773.4 v11" stroke="#2a2a2a" stroke-width=".7" opacity=".55" fill="none"/><rect x="1268.08" y="786.5" width="4.6" height="5.5" fill="#101010" opacity=".45"/><rect x="1282.32" y="772.5" width="5.4" height="13.5" fill="url(#vent)"/><path d="M1282.32 777 h5.4 M1282.32 781.4 h5.4 M1285.02 773.4 v11" stroke="#2a2a2a" stroke-width=".7" opacity=".55" fill="none"/><rect x="1282.92" y="786.5" width="4.6" height="5.5" fill="#101010" opacity=".45"/><rect x="1297.16" y="772.5" width="5.4" height="13.5" fill="url(#vent)"/><path d="M1297.16 777 h5.4 M1297.16 781.4 h5.4 M1299.86 773.4 v11" stroke="#2a2a2a" stroke-width=".7" opacity=".55" fill="none"/><rect x="1297.76" y="786.5" width="4.6" height="5.5" fill="#101010" opacity=".45"/><rect x="1312" y="772.5" width="5.4" height="13.5" fill="url(#vent)"/><path d="M1312 777 h5.4 M1312 781.4 h5.4 M1314.7 773.4 v11" stroke="#2a2a2a" stroke-width=".7" opacity=".55" fill="none"/><rect x="1312.6" y="786.5" width="4.6" height="5.5" fill="#101010" opacity=".45"/><rect x="1326.84" y="772.5" width="5.4" height="13.5" fill="url(#vent)"/><path d="M1326.84 777 h5.4 M1326.84 781.4 h5.4 M1329.54 773.4 v11" stroke="#2a2a2a" stroke-width=".7" opacity=".55" fill="none"/><rect x="1327.44" y="786.5" width="4.6" height="5.5" fill="#101010" opacity=".45"/><rect x="1341.68" y="772.5" width="5.4" height="13.5" fill="url(#vent)"/><path d="M1341.68 777 h5.4 M1341.68 781.4 h5.4 M1344.38 773.4 v11" stroke="#2a2a2a" stroke-width=".7" opacity=".55" fill="none"/><rect x="1342.28" y="786.5" width="4.6" height="5.5" fill="#101010" opacity=".45"/><rect x="1356.52" y="772.5" width="5.4" height="13.5" fill="url(#vent)"/><path d="M1356.52 777 h5.4 M1356.52 781.4 h5.4 M1359.22 773.4 v11" stroke="#2a2a2a" stroke-width=".7" opacity=".55" fill="none"/><rect x="1357.12" y="786.5" width="4.6" height="5.5" fill="#101010" opacity=".45"/><rect x="1371.36" y="772.5" width="5.4" height="13.5" fill="url(#vent)"/><path d="M1371.36 777 h5.4 M1371.36 781.4 h5.4 M1374.06 773.4 v11" stroke="#2a2a2a" stroke-width=".7" opacity=".55" fill="none"/><rect x="1371.96" y="786.5" width="4.6" height="5.5" fill="#101010" opacity=".45"/>
<rect x="940" y="791.8" width="38" height="2" rx="1" fill="#171717"/>
<rect x="1338" y="791.8" width="40" height="2" rx="1" fill="#0e0e0e"/>
<rect x="928.6" y="638.6" width="16.6" height="59.2" rx="1.8" fill="url(#slot)"/>
<rect x="951.37" y="638.6" width="16.6" height="59.2" rx="1.8" fill="url(#slot)"/>
<rect x="974.14" y="638.6" width="16.6" height="59.2" rx="1.8" fill="url(#slot)"/>
<rect x="996.91" y="638.6" width="16.6" height="59.2" rx="1.8" fill="url(#slot)"/>
<rect x="1019.68" y="638.6" width="16.6" height="59.2" rx="1.8" fill="url(#slot)"/>
<rect x="1042.45" y="638.6" width="16.6" height="59.2" rx="1.8" fill="url(#slot)"/>
<rect x="1065.22" y="638.6" width="16.6" height="59.2" rx="1.8" fill="url(#slot)"/>
<rect x="1087.99" y="638.6" width="16.6" height="59.2" rx="1.8" fill="url(#slot)"/>
<rect x="1110.76" y="638.6" width="16.6" height="59.2" rx="1.8" fill="url(#slot)"/>
<rect x="1133.53" y="638.6" width="16.6" height="59.2" rx="1.8" fill="url(#slot)"/>
<circle cx="884" cy="664.3" r="5.4" fill="#565656" stroke="#262626" stroke-width="1"/><path d="M882.38 664.3 H885.89 M884 662.14 V666.46" stroke="#3a3a3a" stroke-width=".9" fill="none"/>
<circle cx="916" cy="711.7" r="5.4" fill="#565656" stroke="#262626" stroke-width="1"/><path d="M914.38 711.7 H917.89 M916 709.54 V713.86" stroke="#3a3a3a" stroke-width=".9" fill="none"/>
<circle cx="981.6" cy="711.7" r="5.4" fill="#565656" stroke="#262626" stroke-width="1"/><path d="M979.98 711.7 H983.49 M981.6 709.54 V713.86" stroke="#3a3a3a" stroke-width=".9" fill="none"/>
<circle cx="1047.5" cy="711.7" r="5.4" fill="#565656" stroke="#262626" stroke-width="1"/><path d="M1045.88 711.7 H1049.39 M1047.5 709.54 V713.86" stroke="#3a3a3a" stroke-width=".9" fill="none"/>
<circle cx="884" cy="753.8" r="5.4" fill="#565656" stroke="#262626" stroke-width="1"/><path d="M882.38 753.8 H885.89 M884 751.64 V755.96" stroke="#3a3a3a" stroke-width=".9" fill="none"/>
<circle cx="908.5" cy="757.5" r="7.2" fill="#565656" stroke="#262626" stroke-width="1"/><path d="M906.34 757.5 H911.02 M908.5 754.62 V760.38" stroke="#3a3a3a" stroke-width=".9" fill="none"/>
<circle cx="1113" cy="711.7" r="5.4" fill="#484848" stroke="#222" stroke-width="1"/><path d="M1111.38 711.7 H1114.89 M1113 709.54 V713.86" stroke="#333" stroke-width=".9" fill="none"/>
<circle cx="1173.1" cy="648" r="5.4" fill="#262626" stroke="#1a1a1a" stroke-width="1"/><path d="M1171.48 648 H1174.99 M1173.1 645.84 V650.16" stroke="#3c3c3c" stroke-width=".9" fill="none"/>
<circle cx="1163" cy="748.2" r="5.4" fill="#262626" stroke="#1a1a1a" stroke-width="1"/><path d="M1161.38 748.2 H1164.89 M1163 746.04 V750.36" stroke="#3c3c3c" stroke-width=".9" fill="none"/>
<circle cx="1433.2" cy="663.8" r="5.4" fill="#101010" stroke="#161616" stroke-width="1"/><path d="M1431.58 663.8 H1435.09 M1433.2 661.64 V665.96" stroke="#2a2a2a" stroke-width=".9" fill="none"/>
<circle cx="1433.2" cy="753.4" r="5.4" fill="#101010" stroke="#161616" stroke-width="1"/><path d="M1431.58 753.4 H1435.09 M1433.2 751.24 V755.56" stroke="#2a2a2a" stroke-width=".9" fill="none"/>
<circle cx="1407.7" cy="756.7" r="7.2" fill="#101010" stroke="#161616" stroke-width="1"/><path d="M1405.54 756.7 H1410.22 M1407.7 753.82 V759.58" stroke="#2a2a2a" stroke-width=".9" fill="none"/>
<rect x="886.7" y="719.8" width="185.6" height="17.2" rx="4.5" fill="none" stroke="#8c4da5" stroke-width="3"/>
<path d="M892.3 721.5 H941.7 V735.7 H897.8 L890.3 729.2 V723.5Z" fill="#0b0b0b"/><path d="M941.7 722 V735.7 M897.8 735.7 L890.3 729.2" fill="none" stroke="#e8e8e8" stroke-width="1.1"/><rect x="899.8" y="727.7" width="35.4" height="3.4" fill="#1e1e1e" stroke="#303030" stroke-width=".6"/>
<path d="M958.3 721.5 H1007.7 V735.7 H963.8 L956.3 729.2 V723.5Z" fill="#0b0b0b"/><path d="M1007.7 722 V735.7 M963.8 735.7 L956.3 729.2" fill="none" stroke="#e8e8e8" stroke-width="1.1"/><rect x="965.8" y="727.7" width="35.4" height="3.4" fill="#1e1e1e" stroke="#303030" stroke-width=".6"/>
<path d="M1023.6 721.5 H1071.6 V735.7 H1029.1 L1021.6 729.2 V723.5Z" fill="#0b0b0b"/><path d="M1029.1 735.7 L1021.6 729.2" fill="none" stroke="#e8e8e8" stroke-width="1.1"/><rect x="1031.1" y="727.7" width="34" height="3.4" fill="#1e1e1e" stroke="#303030" stroke-width=".6"/>
<path d="M979.1 706 V719" stroke="#e4e4e4" stroke-width="1.2"/>
<path d="M919.8 744.6 V750.8 H976 M994 750.8 H1050.2 V744.6" fill="none" stroke="#c6c6c6" stroke-width=".9"/>
<text x="984.9" y="753.2" font-size="6.6" font-weight="400" fill="#cfcfcf" text-anchor="middle" letter-spacing="0.5">DP</text>
<rect x="1089.4" y="719.8" width="45.4" height="17.2" rx="4.5" fill="none" stroke="#8c4da5" stroke-width="3"/>
<path d="M1092 721.5 H1132.4 V729 L1127 735.6 H1097.4 L1092 729Z" fill="#0b0b0b"/><path d="M1092 729 L1097.4 735.6 M1127 735.6 L1132.4 729" fill="none" stroke="#e0e0e0" stroke-width="1.1"/>
<rect x="1098.5" y="726.2" width="27.5" height="2.8" fill="#202020"/>
<path d="M1112 706 V719" stroke="#e4e4e4" stroke-width="1.2"/>
<text x="1115.5" y="748.6" font-size="6.2" font-weight="700" fill="#dcdcdc" text-anchor="middle" letter-spacing="0" textLength="24" lengthAdjust="spacingAndGlyphs">HDMI</text>
<rect x="1207.5" y="636.3" width="209.4" height="31.9" rx="15.95" fill="#1a1a1a" fill-opacity=".35" stroke="#8c4da5" stroke-width="3"/>
<polygon points="1234.35,654.21 1226.58,662.83 1215.24,660.42 1211.65,649.39 1219.42,640.77 1230.76,643.18" fill="url(#gold)" stroke="url(#gold)" stroke-width="5.6" stroke-linejoin="round"/><circle cx="1223" cy="651.8" r="11.6" fill="url(#gold2)"/><circle cx="1223" cy="651.8" r="8.4" fill="#4a3a22"/><circle cx="1223" cy="651.8" r="7.2" fill="url(#smaIn)"/><circle cx="1223" cy="651.8" r="1.2" fill="#d9a95a"/>
<polygon points="1409.05,654.01 1401.28,662.63 1389.94,660.22 1386.35,649.19 1394.12,640.57 1405.46,642.98" fill="url(#gold)" stroke="url(#gold)" stroke-width="5.6" stroke-linejoin="round"/><circle cx="1397.7" cy="651.6" r="11.6" fill="url(#gold2)"/><circle cx="1397.7" cy="651.6" r="8.4" fill="#4a3a22"/><circle cx="1397.7" cy="651.6" r="7.2" fill="url(#smaIn)"/><circle cx="1397.7" cy="651.6" r="1.2" fill="#d9a95a"/>
<path d="M1250.8 644.4 V655.4" stroke="#c4c4c4" stroke-width=".9" fill="none"/><circle cx="1250.8" cy="644" r="1" fill="#c4c4c4"/><path d="M1248.52 641.87 A3.4 3.4 0 0 0 1248.52 646.93" stroke="#b0b0b0" stroke-width=".75" fill="none"/><path d="M1253.08 641.87 A3.4 3.4 0 0 1 1253.08 646.93" stroke="#b0b0b0" stroke-width=".75" fill="none"/><path d="M1246.79 639.94 A6.0 6.0 0 0 0 1246.79 648.86" stroke="#b0b0b0" stroke-width=".75" fill="none"/><path d="M1254.81 639.94 A6.0 6.0 0 0 1 1254.81 648.86" stroke="#b0b0b0" stroke-width=".75" fill="none"/><path d="M1245.05 638.01 A8.6 8.6 0 0 0 1245.05 650.79" stroke="#b0b0b0" stroke-width=".75" fill="none"/><path d="M1256.55 638.01 A8.6 8.6 0 0 1 1256.55 650.79" stroke="#b0b0b0" stroke-width=".75" fill="none"/>
<path d="M1370 644.4 V655.4" stroke="#c4c4c4" stroke-width=".9" fill="none"/><circle cx="1370" cy="644" r="1" fill="#c4c4c4"/><path d="M1367.72 641.87 A3.4 3.4 0 0 0 1367.72 646.93" stroke="#b0b0b0" stroke-width=".75" fill="none"/><path d="M1372.28 641.87 A3.4 3.4 0 0 1 1372.28 646.93" stroke="#b0b0b0" stroke-width=".75" fill="none"/><path d="M1365.99 639.94 A6.0 6.0 0 0 0 1365.99 648.86" stroke="#b0b0b0" stroke-width=".75" fill="none"/><path d="M1374.01 639.94 A6.0 6.0 0 0 1 1374.01 648.86" stroke="#b0b0b0" stroke-width=".75" fill="none"/><path d="M1364.25 638.01 A8.6 8.6 0 0 0 1364.25 650.79" stroke="#b0b0b0" stroke-width=".75" fill="none"/><path d="M1375.75 638.01 A8.6 8.6 0 0 1 1375.75 650.79" stroke="#b0b0b0" stroke-width=".75" fill="none"/>
<circle cx="1267.8" cy="652.7" r="5.4" fill="#121212" stroke="#191919" stroke-width="1"/><path d="M1266.18 652.7 H1269.69 M1267.8 650.54 V654.86" stroke="#333" stroke-width=".9" fill="none"/>
<circle cx="1353.9" cy="652.7" r="5.4" fill="#121212" stroke="#191919" stroke-width="1"/><path d="M1352.28 652.7 H1355.79 M1353.9 650.54 V654.86" stroke="#333" stroke-width=".9" fill="none"/>
<path d="M1312.1 621 V636" stroke="#e4e4e4" stroke-width="1.2"/>
<path d="M1282.4 674 V668.6 M1341.5 668.6 V674" fill="none" stroke="#8e8e8e" stroke-width=".9"/>
<rect x="1310.4" y="662.2" width="3.8" height="3.4" fill="#b0b0b0"/><rect x="1307" y="668" width="3.6" height="2.8" fill="#a8a8a8"/><rect x="1314" y="668" width="3.6" height="2.8" fill="#a8a8a8"/><path d="M1312.3 665.4 V667 M1308.8 667.8 V666.9 H1315.8 V667.8" stroke="#9a9a9a" stroke-width=".6" fill="none"/>
<rect x="1262.7" y="675.7" width="100.2" height="31.2" rx="4.5" fill="#1b1b1b" stroke="#8c4da5" stroke-width="3"/>
<rect x="1264.3" y="677.4" width="39.6" height="28" fill="url(#rjIn)"/><path d="M1264.3 677.4 H1270.7 V681 H1264.3Z M1294.3 677.4 H1303.9 V681 H1294.3Z" fill="#9a9a9a"/><rect x="1301.1" y="677.4" width="2.8" height="28" fill="#b4b4b4"/><rect x="1264.3" y="704.4" width="39.6" height="1" fill="#7a7a7a" opacity=".7"/>
<rect x="1321.8" y="677.4" width="39.6" height="28" fill="url(#rjIn)"/><path d="M1321.8 677.4 H1328.2 V681 H1321.8Z M1351.8 677.4 H1361.4 V681 H1351.8Z" fill="#9a9a9a"/><rect x="1321.8" y="704.4" width="39.6" height="1" fill="#7a7a7a" opacity=".7"/>
<path d="M1364.3 691.2 H1383" stroke="#e4e4e4" stroke-width="1.2"/>
<path d="M1206 691.3 H1238.8 Q1242.3 691.3 1242.3 694.8 V719.3 H1359.4 Q1362.9 719.3 1362.9 722.8 V732 Q1362.9 735.5 1359.4 735.5 H1206 Q1202.5 735.5 1202.5 732 V694.8 Q1202.5 691.3 1206 691.3Z" fill="#2a2a2a" stroke="#8c4da5" stroke-width="3"/>
<rect x="1204.2" y="693" width="36.6" height="14.6" fill="url(#usbIn)"/><rect x="1209.2" y="697.4" width="3" height="1.4" fill="#868686"/><rect x="1215.1" y="697.4" width="3" height="1.4" fill="#868686"/><rect x="1221" y="697.4" width="3" height="1.4" fill="#868686"/><rect x="1226.9" y="697.4" width="3" height="1.4" fill="#868686"/><rect x="1232.8" y="697.4" width="3" height="1.4" fill="#868686"/>
<rect x="1204.2" y="719.4" width="36.6" height="14.4" fill="url(#usbIn)"/><rect x="1209.2" y="723.8" width="3" height="1.4" fill="#868686"/><rect x="1215.1" y="723.8" width="3" height="1.4" fill="#868686"/><rect x="1221" y="723.8" width="3" height="1.4" fill="#868686"/><rect x="1226.9" y="723.8" width="3" height="1.4" fill="#868686"/><rect x="1232.8" y="723.8" width="3" height="1.4" fill="#868686"/>
<rect x="1263.6" y="720.8" width="36.8" height="13.2" fill="url(#usbIn)"/><rect x="1268.6" y="725.2" width="3" height="1.4" fill="#868686"/><rect x="1274.55" y="725.2" width="3" height="1.4" fill="#868686"/><rect x="1280.5" y="725.2" width="3" height="1.4" fill="#868686"/><rect x="1286.45" y="725.2" width="3" height="1.4" fill="#868686"/><rect x="1292.4" y="725.2" width="3" height="1.4" fill="#868686"/>
<rect x="1323.5" y="720.8" width="37" height="13.2" fill="url(#usbIn)"/><rect x="1328.5" y="725.2" width="3" height="1.4" fill="#868686"/><rect x="1334.5" y="725.2" width="3" height="1.4" fill="#868686"/><rect x="1340.5" y="725.2" width="3" height="1.4" fill="#868686"/><rect x="1346.5" y="725.2" width="3" height="1.4" fill="#868686"/><rect x="1352.5" y="725.2" width="3" height="1.4" fill="#868686"/>
<rect x="1204.2" y="708" width="36.6" height="1" fill="#8f8f8f"/><rect x="1204.2" y="717.8" width="36.6" height="1" fill="#9a9a9a"/>
<rect x="1240.4" y="720.8" width="1.2" height="13.2" fill="#8a8a8a"/><rect x="1300.4" y="720.8" width="1.2" height="13.2" fill="#777"/>
<text x="1223.7" y="750" font-size="5.6" font-weight="700" fill="#c8c8c8" text-anchor="middle" letter-spacing="0.35">USB 3.2</text>
<text x="1312" y="750" font-size="5.6" font-weight="700" fill="#c8c8c8" text-anchor="middle" letter-spacing="0.35">USB 3.2</text>
<path d="M1282.8 736.8 V766 M1282.8 748 H1298.5 M1325.5 748 H1340.5 Q1342.2 748 1342.2 746.3 V741" fill="none" stroke="#d0d0d0" stroke-width="1"/>
<circle cx="1398.2" cy="720.7" r="10" fill="#0b0b0b" stroke="#2a2a2a" stroke-width="1.2"/><circle cx="1398.2" cy="720.7" r="6.2" fill="#131313" stroke="#202020" stroke-width=".8"/><circle cx="1398.2" cy="720.7" r="1.6" fill="#2c2c2c"/>
<circle cx="979.1" cy="691" r="15.5" fill="#84489b"/><clipPath id="one2"><path d="M967.1 678 H991.1 V696.1 H982.55 V704 H978.35 V696.1 H967.1Z"/></clipPath><text x="979.9" y="699.1" font-size="22.5" font-weight="700" fill="#fff" stroke="#fff" stroke-width=".5" text-anchor="middle" clip-path="url(#one2)">1</text>
<circle cx="1112" cy="691" r="15.5" fill="#84489b"/><text x="1112" y="699.1" font-size="22.5" font-weight="700" fill="#fff" stroke="#fff" stroke-width=".5" text-anchor="middle">2</text>
<circle cx="1312.1" cy="606.3" r="15.5" fill="#84489b"/><text x="1312.1" y="614.4" font-size="22.5" font-weight="700" fill="#fff" stroke="#fff" stroke-width=".5" text-anchor="middle">3</text>
<circle cx="1398" cy="691.1" r="15.5" fill="#84489b"/><text x="1398" y="699.2" font-size="22.5" font-weight="700" fill="#fff" stroke="#fff" stroke-width=".5" text-anchor="middle">4</text>
<circle cx="1282.8" cy="780.6" r="15.5" fill="#84489b"/><text x="1282.8" y="788.7" font-size="22.5" font-weight="700" fill="#fff" stroke="#fff" stroke-width=".5" text-anchor="middle">5</text>
<path d="M1505.6 616.8 H1517.7 V792.4 H1505.6 M1507.8 648.3 H1517.7 M1500.2 676.5 H1517.7 M1507.8 704.4 H1517.7 M1500.2 732.3 H1517.7 M1507.8 760.2 H1517.7" fill="none" stroke="#a8a8a8" stroke-width="1.15"/>
</g>
</svg>
<h2 class="hd" id="hfront" style="left:60.01px;top:43px;transform:scaleX(1.0512)">FRONT</h2>
<div class="num one" style="top:163.2px"><span>1</span></div><div class="lbl" id="lf1" style="left:139.2px;top:161.2px;transform:scaleX(1.0687)">USB 3.2</div>
<div class="num" style="top:230px">2</div><div class="lbl" id="lf2" style="left:138.59px;top:228px;transform:scaleX(1.1567)">2 x Thunderbolt 4</div>
<div class="num" style="top:296.8px">3</div><div class="lbl" id="lf3" style="left:140.25px;top:294.8px;transform:scaleX(1.1780)">Audio / Mic combo port</div>
<h2 class="hd" id="hback" style="left:60.14px;top:489.3px;transform:scaleX(1.0622)">BACK</h2>
<div class="num one" style="top:609.4px"><span>1</span></div><div class="lbl" id="lb1" style="left:138.9px;top:607.4px;transform:scaleX(1.1001)">3 x DisplayPort 2.1b</div>
<div class="num" style="top:676.2px">2</div><div class="lbl" id="lb2" style="left:139.37px;top:674.2px;transform:scaleX(1.0384)">HDMI 2.1b</div>
<div class="num" style="top:743px">3</div><div class="lbl" id="lb3" style="left:140.52px;top:741px;transform:scaleX(1.1417)">Wi-Fi Antenna</div>
<div class="num" style="top:809.8px">4</div><div class="lbl" id="lb4" style="left:138.74px;top:807.8px;transform:scaleX(1.1188)">2 x 2.5Gbps Ethernet</div>
<div class="num" style="top:876.6px">5</div><div class="lbl" id="lb5" style="left:139.81px;top:873.6px;transform:scaleX(1.0874)">4 x USB 3.2</div>
</body>
</html>
